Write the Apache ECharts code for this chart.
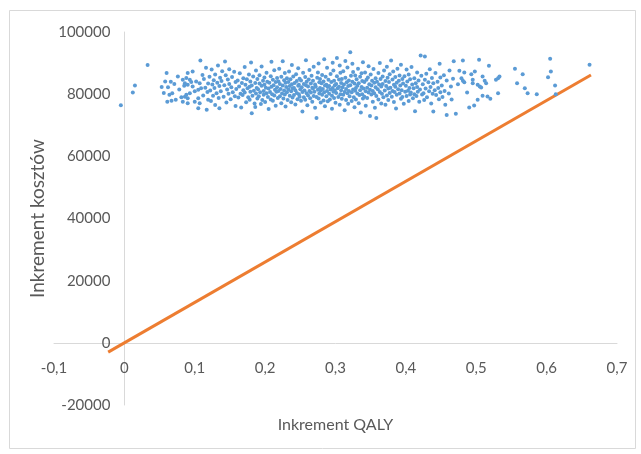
<!DOCTYPE html>
<html>
<head>
<meta charset="utf-8">
<title>Inkrement kosztów / QALY</title>
<script src="https://cdn.jsdelivr.net/npm/echarts@6/dist/echarts.min.js"></script>
<style>
	html, body { margin: 0; padding: 0; background: #fff; }
	#chart_1 { width: 641px; height: 454px; }
</style>
</head>
<body>
<div id="chart_1"></div>
<script>
// nazwy osi
var xName = 'Inkrement QALY';
var yName = 'Inkrement kosztów';

// prosta progu (od - do), [QALY, koszt]
var thresholdLine = [[-0.023, -2990], [0.663, 86190]];

// chmura punktow, [QALY, koszt]
var scatterPoints = [
	[-0.005,76400],[0.012,80500],[0.015,82800],[0.033,89400],
	[0.053,82300],[0.056,80400],[0.058,84100],
	[0.060,86800],[0.061,77600],[0.062,82200],[0.064,79800],[0.067,77900],[0.066,84000],
	[0.068,80300],[0.071,83300],[0.073,78200],[0.076,85700],[0.078,81500],
	[0.081,79000],[0.083,84600],[0.083,77600],[0.085,82700],[0.086,79200],[0.086,83500],[0.088,85200],[0.088,79800],
	[0.090,86800],[0.090,83000],[0.090,78700],[0.090,77100],[0.093,84600],[0.093,80300],[0.095,83900],[0.097,87300],[0.097,82500],
	[0.100,80900],[0.100,77600],[0.102,84100],[0.105,81400],[0.105,78700],[0.105,75500],[0.107,83500],[0.107,77100],[0.108,90800],[0.109,81900],
	[0.111,86200],[0.112,79600],[0.113,84900],[0.115,82100],[0.116,88500],[0.117,75000],[0.118,80700],[0.119,83400],[0.119,78200],
	[0.121,85600],[0.122,81200],[0.123,77800],[0.124,87900],[0.125,83100],[0.126,79500],[0.127,84500],[0.128,82000],[0.129,76500],[0.129,86300],
	[0.131,80300],[0.132,83700],[0.133,89200],[0.134,78800],[0.135,75500],[0.135,82600],[0.136,85300],[0.137,80900],[0.138,84200],[0.139,87400],
	[0.141,79200],[0.142,82900],[0.143,90500],[0.144,86100],[0.145,77300],[0.146,81500],[0.147,84700],[0.148,80100],[0.149,83300],[0.149,88000],
	[0.151,78400],[0.152,82200],[0.153,85500],[0.154,80600],[0.156,87200],[0.157,79300],[0.158,83900],[0.158,76200],[0.159,81700],
	[0.161,84400],[0.162,78900],[0.163,82500],[0.164,86700],[0.165,80100],[0.166,75700],[0.167,83600],[0.168,79700],[0.169,85100],[0.169,81300],
	[0.171,88700],[0.171,80500],[0.172,83000],[0.173,77400],[0.174,84800],[0.175,81900],[0.176,79000],[0.177,86300],[0.178,82400],[0.178,78200],[0.179,84100],[0.179,80800],
	[0.180,90200],[0.181,73900],[0.181,82800],[0.182,79500],[0.183,85700],[0.184,81100],[0.185,77000],[0.186,83600],[0.187,80200],[0.187,87600],[0.188,82000],[0.189,78600],[0.189,84900],[0.186,75900],
	[0.190,81600],[0.191,79300],[0.192,83400],[0.192,86100],[0.193,80600],[0.194,76800],[0.195,82700],[0.195,88900],[0.196,78100],[0.197,84300],[0.198,81000],[0.198,79800],[0.199,85400],[0.199,83000],
	[0.200,77500],[0.201,82100],[0.202,80300],[0.202,86900],[0.203,84000],[0.204,79100],[0.205,81800],[0.205,75200],[0.206,83700],[0.207,80700],[0.208,85800],[0.208,78300],[0.209,82400],[0.209,90400],
	[0.210,80000],[0.211,84600],[0.211,77900],[0.212,82900],[0.213,79600],[0.213,87700],[0.214,81400],[0.215,83900],[0.215,76300],[0.216,80800],[0.217,85200],[0.217,82200],[0.218,78800],[0.219,84100],[0.219,81000],
	[0.220,88200],[0.221,79300],[0.221,83300],[0.222,81700],[0.223,77100],[0.223,85600],[0.224,80200],[0.225,82800],[0.225,90600],[0.226,78600],[0.227,84500],[0.227,81200],[0.228,86800],[0.228,79900],[0.229,83700],[0.229,76000],
	[0.230,82300],[0.231,80600],[0.231,85100],[0.232,78100],[0.233,83900],[0.233,81500],[0.234,87300],[0.235,79500],[0.235,82600],[0.236,84800],[0.237,77400],[0.237,80900],[0.238,83200],[0.238,89400],[0.239,81900],[0.239,78900],
	[0.240,85700],[0.241,82000],[0.241,79700],[0.242,83600],[0.243,76700],[0.243,81300],[0.244,86400],[0.245,80400],[0.245,84200],[0.246,78400],[0.247,82700],[0.247,88300],[0.248,80000],[0.248,83000],[0.249,79200],[0.249,85000],
	[0.250,81600],[0.251,77900],[0.251,84400],[0.252,82200],[0.253,74400],[0.253,80700],[0.254,86900],[0.255,83300],[0.255,79000],[0.256,81200],[0.257,85500],[0.257,78200],[0.258,82900],[0.258,90900],[0.259,80300],[0.259,84000],
	[0.260,76400],[0.261,82500],[0.261,79600],[0.262,84700],[0.263,81000],[0.263,87800],[0.264,78700],[0.265,83400],[0.265,80500],[0.266,85900],[0.267,82100],[0.267,77600],[0.268,81800],[0.268,84300],[0.269,79400],[0.269,88800],
	[0.270,80800],[0.271,83100],[0.271,75600],[0.272,82400],[0.273,72300],[0.273,79100],[0.274,85300],[0.275,81400],[0.275,87000],[0.276,78600],[0.277,83800],[0.277,80200],[0.278,82000],[0.278,84900],[0.279,77300],[0.279,81100],[0.276,89900],
	[0.280,83500],[0.281,79800],[0.281,86200],[0.282,81700],[0.283,78000],[0.283,84100],[0.284,80600],[0.285,82800],[0.285,76100],[0.286,85600],[0.287,79300],[0.287,83000],[0.288,81000],[0.288,88500],[0.289,77700],[0.289,82300],[0.284,91200],
	[0.290,84600],[0.291,80100],[0.291,82600],[0.292,78300],[0.293,86500],[0.293,81500],[0.294,83900],[0.295,79500],[0.295,75300],[0.296,82000],[0.297,87600],[0.297,80800],[0.298,84300],[0.298,78800],[0.299,82900],[0.299,81200],[0.296,90100],
	[0.300,77200],[0.301,83300],[0.301,80400],[0.302,91600],[0.302,85800],[0.303,81900],[0.304,79100],[0.305,84700],[0.305,82400],[0.306,76600],[0.307,80000],[0.307,86900],[0.308,83600],[0.308,81300],[0.309,78500],[0.309,84900],[0.306,89200],
	[0.310,82200],[0.311,79800],[0.311,87400],[0.312,83100],[0.313,80700],[0.313,74800],[0.314,85300],[0.315,81700],[0.315,78100],[0.316,83800],[0.317,80300],[0.317,88600],[0.318,82600],[0.318,76900],[0.319,84400],[0.319,81000],[0.314,90700],
	[0.320,79300],[0.321,93500],[0.321,82900],[0.322,85900],[0.323,80600],[0.323,77800],[0.324,84000],[0.325,81500],[0.325,87100],[0.326,79000],[0.327,83400],[0.327,75800],[0.328,81100],[0.328,86000],[0.329,82000],[0.329,78300],[0.324,89800],
	[0.330,84800],[0.331,80200],[0.331,82700],[0.332,88200],[0.333,77100],[0.333,83500],[0.334,79700],[0.335,85600],[0.335,81300],[0.336,74100],[0.337,82300],[0.337,86700],[0.338,80000],[0.338,84200],[0.339,78600],[0.339,90300],
	[0.340,81800],[0.341,83900],[0.341,79200],[0.342,87000],[0.343,80900],[0.343,76300],[0.344,84600],[0.345,82100],[0.345,78800],[0.346,85400],[0.347,80500],[0.347,89000],[0.348,83200],[0.349,73000],[0.349,81400],
	[0.350,86300],[0.351,79900],[0.351,82800],[0.352,84300],[0.353,77600],[0.353,81000],[0.354,88100],[0.355,83700],[0.355,80300],[0.356,75600],[0.357,85100],[0.357,82200],[0.358,72300],[0.358,79400],[0.359,84000],
	[0.360,81600],[0.361,86800],[0.361,78300],[0.362,83100],[0.363,80700],[0.363,90000],[0.364,84900],[0.365,82500],[0.365,77000],[0.366,80100],[0.367,85700],[0.367,83300],[0.368,79000],[0.369,87600],
	[0.370,81200],[0.371,84200],[0.371,76600],[0.372,82600],[0.373,79600],[0.373,88800],[0.374,85300],[0.375,81800],[0.375,78100],[0.376,83900],[0.377,80400],[0.377,86400],[0.378,82100],[0.379,90800],
	[0.380,79200],[0.381,84700],[0.381,81000],[0.382,87300],[0.383,83000],[0.383,77500],[0.384,80700],[0.385,85500],[0.385,82400],[0.386,75400],[0.387,83700],[0.387,79800],[0.388,88200],[0.389,81600],
	[0.390,84300],[0.391,80200],[0.391,86000],[0.392,82800],[0.393,78500],[0.393,89500],[0.394,81300],[0.395,84900],[0.395,79100],[0.396,83400],[0.397,76900],[0.398,85800],[0.399,80800],
	[0.400,82700],[0.401,87900],[0.401,79400],[0.402,84100],[0.403,81100],[0.404,77800],[0.404,86300],[0.405,82000],[0.406,79900],[0.406,84800],[0.407,80500],[0.408,88700],[0.409,83100],
	[0.410,78700],[0.411,81900],[0.412,85100],[0.412,80000],[0.413,74500],[0.414,83500],[0.415,79400],[0.416,87000],[0.416,82300],[0.417,80800],[0.418,84400],[0.419,77600],
	[0.420,81500],[0.421,92400],[0.422,85900],[0.423,79900],[0.424,83200],[0.425,80300],[0.426,78100],[0.427,92100],[0.427,84600],[0.428,81800],[0.429,86600],
	[0.430,79000],[0.432,83800],[0.433,80900],[0.434,88000],[0.435,82300],[0.436,77000],[0.437,85200],[0.438,80100],[0.439,83500],[0.439,74400],
	[0.441,81300],[0.442,86800],[0.443,79700],[0.445,84000],[0.446,82000],[0.447,78400],[0.448,89800],[0.449,80600],[0.449,85400],
	[0.451,82800],[0.452,79100],[0.454,86100],[0.455,81000],[0.456,76600],[0.458,73300],[0.458,84400],
	[0.461,80200],[0.462,87600],[0.464,82500],[0.465,78300],[0.467,85000],[0.468,90600],[0.471,73700],
	[0.474,83200],[0.476,87500],[0.479,85150],[0.481,90830],[0.481,84280],[0.483,86960],[0.483,83860],[0.487,80520],
	[0.490,75700],[0.493,86440],[0.495,84600],[0.495,83540],[0.497,76340],[0.498,87280],
	[0.502,83000],[0.502,78170],[0.504,91040],[0.505,82450],[0.507,82130],[0.509,85670],[0.509,79460],
	[0.512,84280],[0.514,83540],[0.516,79240],[0.518,89110],[0.520,78500],
	[0.528,84600],[0.531,85150],[0.531,80330],[0.533,85670],
	[0.555,88150],[0.558,83540],[0.566,86440],[0.569,81940],[0.573,80330],[0.586,80010],
	[0.602,85480],[0.605,91360],[0.606,87280],[0.612,82770],[0.613,80010],[0.661,89430]
];

var myChart = echarts.init(document.getElementById('chart_1'));
var fontName = 'Lato, "Open Sans", sans-serif';

// osie przesuniete na zero: 0,1 QALY = 70.4 px, 20000 = 62.2 px
var xAxisShift = -62.2;
var yAxisShift = -70.4;

var option = {
	animation: false,
	backgroundColor: '#fff',
	// ramka wokol wykresu
	graphic: [{
		type: 'rect',
		left: 7,
		top: 8,
		shape: { width: 626, height: 438 },
		style: { fill: 'none', stroke: '#d9d9d9', lineWidth: 1 }
	}],
	grid: {
		left: 54,
		right: 24,
		top: 32,
		bottom: 49,
		containLabel: false,
		outerBoundsMode: 'none'
	},
	xAxis: {
		type: 'value',
		position: 'bottom',
		offset: xAxisShift,
		min: -0.1,
		max: 0.7,
		interval: 0.1,
		name: xName,
		nameLocation: 'middle',
		nameGap: 74,
		nameTextStyle: { color: '#595959', fontSize: 16, fontFamily: fontName },
		axisLine: { onZero: false, lineStyle: { color: '#d9d9d9', width: 1 } },
		axisTick: { show: false },
		splitLine: { show: false },
		axisLabel: {
			margin: 18,
			color: '#595959',
			fontSize: 15,
			fontFamily: fontName,
			formatter: function(v) {
				return String(Math.round(v * 10) / 10).replace('.', ',');
			}
		}
	},
	yAxis: {
		type: 'value',
		position: 'left',
		offset: yAxisShift,
		min: -20000,
		max: 100000,
		interval: 20000,
		name: yName,
		nameLocation: 'middle',
		nameGap: 72,
		nameTextStyle: { color: '#595959', fontSize: 19, fontFamily: fontName },
		axisLine: { onZero: false, lineStyle: { color: '#d9d9d9', width: 1 } },
		axisTick: { show: false },
		splitLine: { show: false },
		axisLabel: {
			margin: 14,
			color: '#595959',
			fontSize: 15,
			fontFamily: fontName,
			formatter: function(v) {
				return String(v);
			}
		}
	},
	series: [{
			name: 'prog',
			type: 'line',
			data: thresholdLine,
			symbol: 'none',
			lineStyle: { color: '#ED7D31', width: 3 },
			z: 2
		},
		{
			name: 'symulacje',
			type: 'scatter',
			data: scatterPoints,
			symbolSize: 4,
			itemStyle: { color: '#5B9BD5', opacity: 1 },
			z: 3
		}
	]
};
myChart.setOption(option);
</script>
</body>
</html>
